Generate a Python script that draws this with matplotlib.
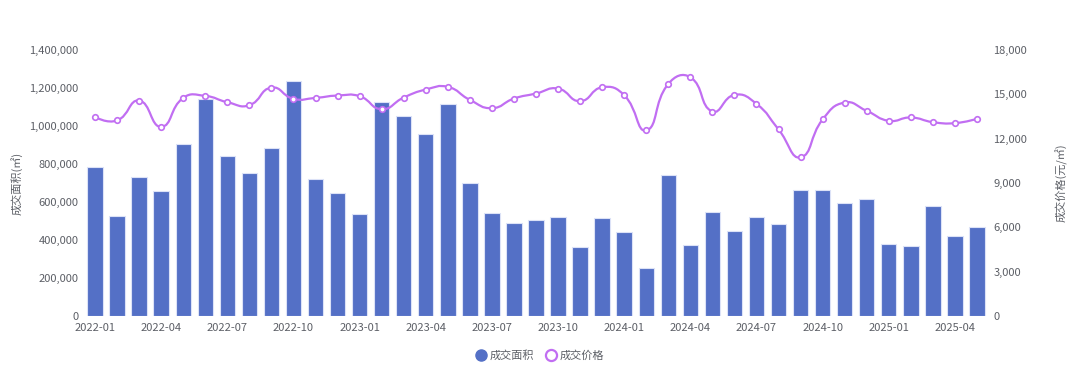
import matplotlib
matplotlib.use("Agg")
import matplotlib.pyplot as plt
from matplotlib.path import Path
from matplotlib.patches import PathPatch
from matplotlib.lines import Line2D
from matplotlib.ticker import FuncFormatter

plt.rcParams['font.family'] = ['Noto Sans CJK SC', 'DejaVu Sans']

# monthly data 2022-01 .. 2025-05
months = []
for y in (2022, 2023, 2024, 2025):
    for m in range(1, 13):
        months.append("%d-%02d" % (y, m))
months = months[:41]

area = [784000, 527000, 733000, 658000, 905000, 1141000, 844000, 754000, 886000, 1237000,
        723000, 648000, 537000, 1125000, 1055000, 956000, 1118000, 702000, 544000, 487000,
        506000, 522000, 362000, 516000, 443000, 252000, 744000, 375000, 546000, 448000,
        522000, 483000, 663000, 663000, 593000, 614000, 380000, 366000, 581000, 420000,
        469000]
price = [13455, 13230, 14580, 12800, 14760, 14895, 14468, 14265, 15458, 14693,
         14760, 14918, 14873, 13995, 14783, 15323, 15503, 14625, 14063, 14715,
         15053, 15390, 14535, 15480, 14940, 12555, 15705, 16155, 13838, 14963,
         14355, 12623, 10733, 13298, 14445, 13883, 13208, 13433, 13118, 13050,
         13343]

bar_color = '#5470c6'
line_color = '#c16ef2'
text_color = '#5c5f66'

fig = plt.figure(figsize=(10.8, 3.74), dpi=100)
ax = fig.add_axes([0.0778, 0.1551, 0.837, 0.7112])
ax2 = ax.twinx()

x = list(range(len(months)))
ax.bar(x, area, width=0.7, color=bar_color, edgecolor='#dce2f7', linewidth=0.8, zorder=2)
ax.set_xlim(-0.5, len(months) - 0.5)
ax.set_ylim(0, 1400000)
ax.set_yticks(range(0, 1400001, 200000))
ax.yaxis.set_major_formatter(FuncFormatter(lambda v, p: "{:,}".format(int(v))))
ax.set_xticks(x[::3])
ax.set_xticklabels(months[::3])

ax2.set_ylim(0, 18000)
ax2.set_yticks(range(0, 18001, 3000))
ax2.yaxis.set_major_formatter(FuncFormatter(lambda v, p: "{:,}".format(int(v))))

# smooth curve (bezier through the points, echarts-like), in pixel-ish space
W, H = 904.0, 266.0
px = [(i + 0.5) / len(months) * W for i in x]
py = [v / 18000.0 * H for v in price]
s = 0.5
verts = [(px[0], py[0])]
codes = [Path.MOVETO]
cps = []
for i in range(len(px)):
    if i == 0 or i == len(px) - 1:
        cps.append(((px[i], py[i]), (px[i], py[i])))
        continue
    vx = px[i + 1] - px[i - 1]
    vy = py[i + 1] - py[i - 1]
    d0 = ((px[i] - px[i - 1]) ** 2 + (py[i] - py[i - 1]) ** 2) ** 0.5
    d1 = ((px[i + 1] - px[i]) ** 2 + (py[i + 1] - py[i]) ** 2) ** 0.5
    r0 = d0 / (d0 + d1)
    r1 = d1 / (d0 + d1)
    cps.append(((px[i] - vx * s * r0, py[i] - vy * s * r0),
                (px[i] + vx * s * r1, py[i] + vy * s * r1)))
for i in range(1, len(px)):
    verts += [cps[i - 1][1], cps[i][0], (px[i], py[i])]
    codes += [Path.CURVE4] * 3
to_data = lambda p: (p[0] / W * len(months) - 0.5, p[1] / H * 18000.0)
verts = [to_data(v) for v in verts]
ax2.add_patch(PathPatch(Path(verts, codes), facecolor='none', edgecolor=line_color,
                        linewidth=1.6, zorder=3))
ax2.plot(x, price, linestyle='none', marker='o', markersize=4, markerfacecolor='white',
         markeredgecolor=line_color, markeredgewidth=1.2, zorder=4)

for a in (ax, ax2):
    for sp in a.spines.values():
        sp.set_visible(False)
    a.tick_params(length=0, labelsize=8, colors=text_color, pad=4)
ax.tick_params(axis='x', pad=5)

ax.set_ylabel("成交面积(㎡)", fontsize=8, color=text_color, labelpad=5)
ax2.set_ylabel("成交价格(元/㎡)", fontsize=8, color=text_color, labelpad=20)

handles = [Line2D([], [], linestyle='none', marker='o', markersize=8, markerfacecolor=bar_color,
                  markeredgecolor=bar_color),
           Line2D([], [], linestyle='none', marker='o', markersize=8, markerfacecolor='white',
                  markeredgecolor=line_color, markeredgewidth=1.6)]
fig.legend(handles, ["成交面积", "成交价格"], loc='center', bbox_to_anchor=(0.5, 0.05),
           ncol=2, frameon=False, fontsize=8, labelcolor=text_color,
           handletextpad=0.3, columnspacing=1.0, handlelength=1.0)

fig.savefig("out.png", dpi=100)
